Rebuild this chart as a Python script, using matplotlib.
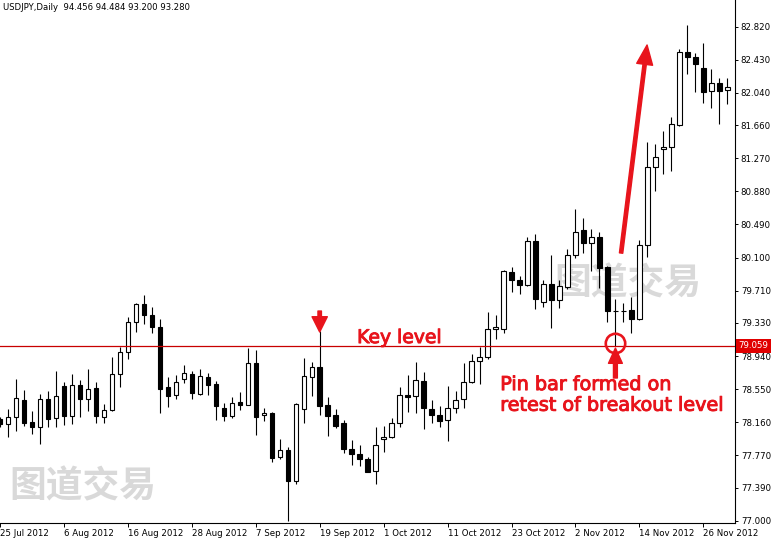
import numpy as np
import pandas as pd
import matplotlib.pyplot as plt
import matplotlib.patheffects as pe

# USDJPY daily candles, 25 Jul 2012 - 29 Nov 2012 (weekdays)
dates = pd.bdate_range('2012-07-25', '2012-11-29')

opens = [78.194, 78.135, 78.218, 78.418, 78.159, 78.104, 78.433, 78.206, 78.583, 78.230,
         78.595, 78.430, 78.559, 78.218, 78.300, 78.724, 78.984, 79.337, 79.549, 79.420,
         79.278, 78.571, 78.477, 78.673, 78.724, 78.496, 78.689, 78.607, 78.327, 78.237,
         78.398, 78.366, 78.854, 78.241, 78.268, 77.754, 77.829, 77.471, 78.319, 78.689,
         78.807, 78.359, 78.241, 78.147, 77.844, 77.785, 77.723, 77.582, 77.962, 77.982,
         78.147, 78.475, 78.465, 78.645, 78.316, 78.245, 78.183, 78.324, 78.430, 78.630,
         78.881, 78.925, 79.254, 79.262, 79.930, 79.839, 79.780, 80.295, 79.580, 79.785,
         79.603, 79.749, 80.126, 80.424, 80.275, 80.338, 79.985, 79.470, 79.470, 79.482,
         79.372, 80.248, 81.163, 81.375, 81.399, 81.661, 82.518, 82.459, 82.329, 82.066,
         82.153, 82.070]
highs = [78.221, 78.312, 78.669, 78.539, 78.292, 78.489, 78.528, 78.767, 78.634, 78.724,
         78.661, 78.787, 78.630, 78.371, 78.925, 79.043, 79.396, 79.561, 79.659, 79.514,
         79.372, 78.689, 78.716, 78.830, 78.763, 78.783, 78.740, 78.649, 78.386, 78.461,
         78.519, 79.034, 79.011, 78.324, 78.277, 77.962, 77.864, 78.386, 78.916, 78.869,
         79.229, 78.453, 78.316, 78.183, 77.947, 77.895, 77.752, 78.104, 78.121, 78.210,
         78.575, 78.716, 78.869, 78.748, 78.422, 78.355, 78.583, 78.528, 78.858, 78.964,
         79.050, 79.458, 79.420, 79.953, 79.985, 79.882, 80.345, 80.377, 79.835, 80.133,
         79.835, 80.204, 80.672, 80.562, 80.436, 80.397, 80.004, 79.612, 79.561, 79.632,
         80.307, 81.461, 81.438, 81.591, 81.756, 82.557, 82.840, 82.510, 82.624, 82.318,
         82.212, 82.212]
lows = [78.104, 77.982, 78.060, 78.119, 78.021, 77.900, 78.107, 78.100, 78.131, 78.142,
        78.225, 78.289, 78.154, 78.154, 78.292, 78.578, 78.901, 79.219, 79.313, 79.215,
        78.272, 78.343, 78.437, 78.618, 78.437, 78.477, 78.484, 78.183, 78.178, 78.210,
        78.300, 78.359, 78.006, 78.171, 77.688, 77.723, 76.996, 77.436, 78.154, 78.472,
        78.241, 78.001, 78.095, 77.794, 77.652, 77.648, 77.570, 77.429, 77.809, 77.974,
        78.107, 78.284, 78.265, 78.076, 78.147, 78.107, 77.935, 78.272, 78.324, 78.618,
        78.607, 78.901, 79.137, 79.207, 79.698, 79.674, 79.765, 79.490, 79.521, 79.266,
        79.509, 79.726, 80.098, 80.150, 79.945, 79.738, 79.344, 79.058, 79.344, 79.207,
        79.364, 80.110, 80.887, 81.081, 81.123, 81.650, 82.259, 82.054, 81.917, 81.858,
        81.677, 81.905]
closes = [78.135, 78.221, 78.445, 78.154, 78.100, 78.430, 78.201, 78.465, 78.230, 78.595,
          78.430, 78.551, 78.237, 78.300, 78.724, 78.984, 79.337, 79.549, 79.420, 79.278,
          78.555, 78.472, 78.630, 78.736, 78.501, 78.701, 78.602, 78.355, 78.237, 78.383,
          78.366, 78.854, 78.225, 78.265, 77.742, 77.829, 77.471, 78.375, 78.701, 78.807,
          78.347, 78.230, 78.115, 77.841, 77.782, 77.723, 77.577, 77.888, 77.986, 78.147,
          78.477, 78.463, 78.657, 78.324, 78.241, 78.171, 78.324, 78.418, 78.630, 78.878,
          78.925, 79.254, 79.282, 79.938, 79.832, 79.780, 80.295, 79.615, 79.785, 79.603,
          79.765, 80.126, 80.397, 80.275, 80.338, 79.980, 79.467, 79.476, 79.476, 79.372,
          80.248, 81.163, 81.281, 81.402, 81.670, 82.518, 82.459, 82.377, 82.054, 82.153,
          82.066, 82.109]

key_level = 79.059
y_ticks = [82.820, 82.430, 82.040, 81.660, 81.270, 80.880, 80.490, 80.100,
           79.710, 79.330, 78.940, 78.550, 78.160, 77.770, 77.390, 77.000]
tick_dates = ['2012-07-25', '2012-08-06', '2012-08-16', '2012-08-28', '2012-09-07', '2012-09-19',
              '2012-10-01', '2012-10-11', '2012-10-23', '2012-11-02', '2012-11-14', '2012-11-26']
tick_labels = ['25 Jul 2012', '6 Aug 2012', '16 Aug 2012', '28 Aug 2012', '7 Sep 2012', '19 Sep 2012',
               '1 Oct 2012', '11 Oct 2012', '23 Oct 2012', '2 Nov 2012', '14 Nov 2012', '26 Nov 2012']

RED = '#e8141c'
heavy = [pe.withStroke(linewidth=0.7, foreground=RED)]

fig = plt.figure(figsize=(7.75, 5.44), dpi=100)
ax = fig.add_axes([0, 1 - 523 / 544, 735.3 / 775, 523 / 544])

x = np.arange(len(dates))
o = np.array(opens)
c = np.array(closes)
up = c >= o

# watermarks
for wx, wy in [(83, 487), (628, 284)]:
    ax.text(wx / 775, 1 - wy / 544, '图道交易', transform=fig.transFigure, ha='center', va='center',
            fontsize=26.5, fontweight='bold', color='#d9d9d9', family='Noto Sans CJK SC', zorder=0.5)

# candles
ax.vlines(x, lows, highs, color='black', linewidth=0.8, zorder=2)
ax.bar(x, np.maximum(np.abs(c - o), 0.004), bottom=np.minimum(o, c), width=0.55,
       color=np.where(up, 'white', 'black'), edgecolor='black', linewidth=0.8, zorder=3)

# key level line + price tag
ax.axhline(key_level, color='#c80000', linewidth=0.9, zorder=4)
ax.text(1.004, key_level, '79.059', transform=ax.get_yaxis_transform(), ha='left', va='center',
        fontsize=6.2, color='white', clip_on=False,
        bbox=dict(boxstyle='square,pad=0.3', facecolor='#e00000', edgecolor='none'))

# axes styling
ax.set_xlim(0.0875, 92.0)
ax.set_ylim(76.973, 83.134)
ax.spines['left'].set_visible(False)
ax.spines['top'].set_visible(False)
ax.spines['right'].set_linewidth(0.8)
ax.spines['bottom'].set_linewidth(0.8)
ax.yaxis.tick_right()
ax.set_yticks(y_ticks)
ax.set_yticklabels(['%.3f' % v for v in y_ticks])
tick_pos = [list(dates).index(pd.Timestamp(d)) for d in tick_dates]
ax.set_xticks(tick_pos)
ax.set_xticklabels(tick_labels, ha='left')
ax.tick_params(axis='y', length=2.5, width=0.7, pad=1.5, labelsize=6.2)
ax.tick_params(axis='x', length=3, width=0.7, pad=1.5, labelsize=6.2)

# annotations
ax.annotate('', xy=(40, 79.223), xytext=(40, 79.47),
            arrowprops=dict(width=2.5, headwidth=11, headlength=11, color=RED, shrink=0), zorder=5)
ax.text(44.68, 79.093, 'Key level', color=RED, fontsize=13.5, va='baseline', ha='left',
        path_effects=heavy, zorder=5)
ax.plot([77], [79.093], marker='o', markersize=14, fillstyle='none', markeredgewidth=1.9,
        color=RED, zorder=5)
ax.annotate('', xy=(77, 79.034), xytext=(77, 78.681),
            arrowprops=dict(width=2.8, headwidth=10, headlength=11, color=RED, shrink=0), zorder=5)
ax.text(62.59, 78.539, 'Pin bar formed on', color=RED, fontsize=13.8, va='baseline', ha='left',
        path_effects=heavy, zorder=5)
ax.text(62.59, 78.295, 'retest of breakout level', color=RED, fontsize=13.8, va='baseline', ha='left',
        path_effects=heavy, zorder=5)
ax.annotate('', xy=(80.96, 82.604), xytext=(77.71, 80.153),
            arrowprops=dict(width=2.4, headwidth=11.5, headlength=14, color=RED, shrink=0), zorder=5)

fig.text(3 / 775, 1 - 7 / 544, 'USDJPY,Daily  94.456 94.484 93.200 93.280', fontsize=6.1,
         va='center', ha='left', color='black')

plt.savefig('out.png', dpi=100)
